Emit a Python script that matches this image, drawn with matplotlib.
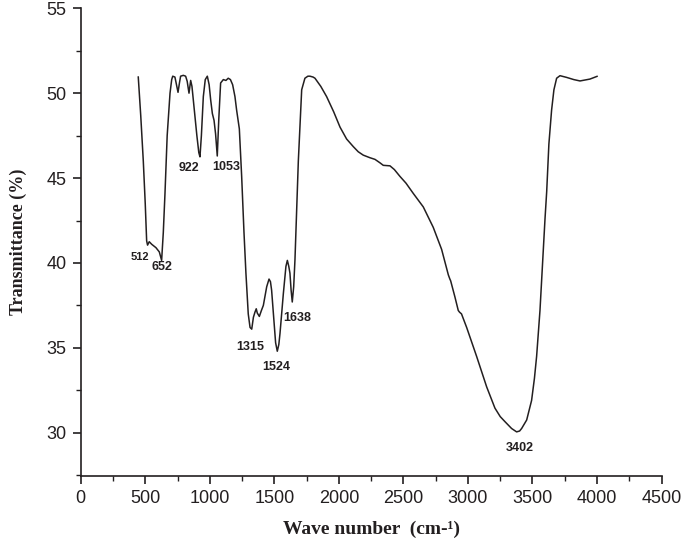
import matplotlib
matplotlib.use("Agg")
import matplotlib.pyplot as plt
from matplotlib.ticker import MultipleLocator

# FTIR spectrum, values
wavenumber = [
    446, 465, 485, 500, 511, 518, 531, 550, 583, 609, 627, 640, 653, 670, 692,
    705, 713, 730, 742, 754, 765, 774, 795, 813, 825, 839, 852, 862, 880, 900,
    915, 924, 935, 950, 965, 981, 995, 1007, 1020, 1033, 1045, 1058, 1070, 1084,
    1105, 1125, 1143, 1160, 1177, 1195, 1208, 1229, 1247, 1265, 1280, 1298, 1312,
    1325, 1338, 1350, 1360, 1368, 1384, 1400, 1415, 1441, 1459, 1470, 1479, 1497,
    1510, 1523, 1535, 1544, 1570, 1590, 1601, 1612, 1621, 1630, 1639, 1650, 1660,
    1686, 1712, 1737, 1760, 1776, 1800, 1815, 1860, 1905, 1960, 2009, 2060, 2112,
    2150, 2189, 2240, 2280, 2318, 2344, 2396, 2430, 2473, 2520, 2576, 2654, 2731,
    2796, 2848, 2860, 2866, 2899, 2925, 2935, 2950, 2990, 3067, 3145, 3209, 3250,
    3287, 3338, 3377, 3400, 3416, 3455, 3493, 3515, 3532, 3558, 3583, 3597, 3610,
    3627, 3648, 3666, 3687, 3713, 3764, 3820, 3868, 3945, 4000,
]
transmittance = [
    50.95, 48.7, 46.0, 43.5, 41.3, 41.05, 41.25, 41.1, 40.9, 40.65, 40.15, 41.8,
    44.1, 47.5, 50.0, 50.8, 51.0, 50.95, 50.5, 50.05, 50.6, 51.0, 51.05, 51.0,
    50.7, 50.0, 50.75, 50.4, 49.0, 47.5, 46.5, 46.25, 47.5, 49.8, 50.8, 51.0,
    50.5, 49.6, 48.8, 48.4, 47.6, 46.3, 48.5, 50.6, 50.8, 50.75, 50.88, 50.8,
    50.5, 49.8, 49.0, 47.9, 45.1, 41.8, 39.4, 37.0, 36.2, 36.1, 36.8, 37.1, 37.3,
    37.05, 36.85, 37.2, 37.5, 38.6, 39.05, 38.9, 38.4, 36.6, 35.3, 34.8, 35.2,
    35.85, 38.2, 39.8, 40.15, 39.8, 39.4, 38.4, 37.7, 38.6, 40.2, 46.0, 50.2,
    50.88, 51.0, 51.0, 50.95, 50.88, 50.4, 49.8, 48.9, 48.0, 47.3, 46.85, 46.55,
    46.35, 46.2, 46.1, 45.9, 45.75, 45.72, 45.5, 45.1, 44.7, 44.1, 43.3, 42.1,
    40.8, 39.3, 39.05, 38.95, 38.0, 37.2, 37.1, 37.0, 36.2, 34.5, 32.7, 31.45,
    30.95, 30.65, 30.25, 30.05, 30.1, 30.25, 30.75, 31.9, 33.2, 34.5, 37.2, 40.7,
    42.6, 44.2, 47.0, 49.0, 50.2, 50.88, 51.03, 50.93, 50.8, 50.72, 50.83, 50.99,
]

# peak annotations: text, x, y (centre of label)
peak_labels = ["512", "652", "922", "1053", "1315", "1524", "1638", "3402"]
peak_x = [459, 627, 841, 1126, 1312, 1513, 1678, 3403]
peak_y = [40.34, 39.77, 45.57, 45.67, 35.06, 33.87, 36.73, 29.11]
peak_size = [8, 9, 9, 9, 9, 9, 9, 9]

INK = "#231f20"

fig = plt.figure(figsize=(6.85, 5.45), dpi=100)
ax = fig.add_axes([0.1178, 0.1272, 0.848, 0.8576])

ax.plot(wavenumber, transmittance, color=INK, lw=1.1)

for txt, x, y, s in zip(peak_labels, peak_x, peak_y, peak_size):
    ax.text(x, y, txt, ha="center", va="center", fontsize=s,
            fontweight="bold", family="Liberation Sans", color=INK)

ax.set_xlim(0, 4500)
ax.set_ylim(27.47, 55)
ax.xaxis.set_major_locator(MultipleLocator(500))
ax.xaxis.set_minor_locator(MultipleLocator(250))
ax.yaxis.set_major_locator(MultipleLocator(5))
ax.yaxis.set_minor_locator(MultipleLocator(2.5))

for side in ("top", "right"):
    ax.spines[side].set_visible(False)
for side in ("left", "bottom"):
    ax.spines[side].set_color(INK)
    ax.spines[side].set_linewidth(1.2)

ax.tick_params(which="major", direction="out", length=6, width=1.2,
               color=INK, labelsize=13, labelcolor=INK, pad=4)
ax.tick_params(which="minor", direction="out", length=3.6, width=1.0,
               color=INK)
for lbl in ax.get_xticklabels() + ax.get_yticklabels():
    lbl.set_family("Liberation Sans")

ax.set_xlabel("Wave number  (cm-\u00b9)", fontsize=14, fontweight="bold",
              family="Liberation Serif", color=INK, labelpad=10)
ax.set_ylabel("Transmittance (%)", fontsize=13, fontweight="bold",
              family="Liberation Serif", color=INK, labelpad=14)

fig.savefig("out.png", dpi=100)
